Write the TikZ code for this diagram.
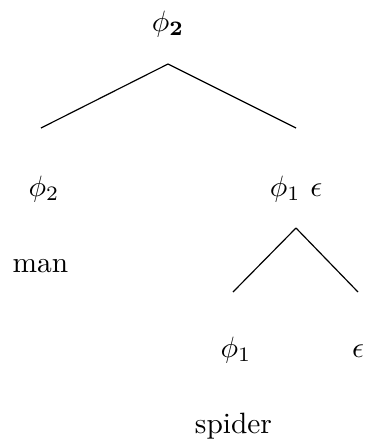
\documentclass[tikz,border=0pt]{standalone}
\usepackage{tikz}

\begin{document}
\begin{tikzpicture}[
  x=0.34pt, y=-0.34pt,
  every node/.style={inner sep=0pt, anchor=base, font=\normalsize},
  branch/.style={thin}
]
  \useasboundingbox (0,0) rectangle (365,443);
  \node (root)   at (168,31)   {$\phi_{\mathbf{2}}$};
  \node (left)   at (44,196)   {$\phi_2$};
  \node (right)  at (296,196)  {$\phi_1$ $\epsilon$};
  \node (man)    at (40.5,272) {man};
  \node (phi)    at (236,357)  {$\phi_1$};
  \node (eps)    at (358,357)  {$\epsilon$};
  \node (spider) at (233.5,433) {spider};
  \coordinate (top)  at (168,64);
  \coordinate (topl) at (41,128);
  \coordinate (topr) at (296,128);
  \coordinate (sub)  at (296,228);
  \coordinate (subl) at (233,292);
  \coordinate (subr) at (358,292);
  \foreach \i/\j in {top/topl,top/topr,sub/subl,sub/subr} \draw[branch] (\i) -- (\j);
\end{tikzpicture}
\end{document}
